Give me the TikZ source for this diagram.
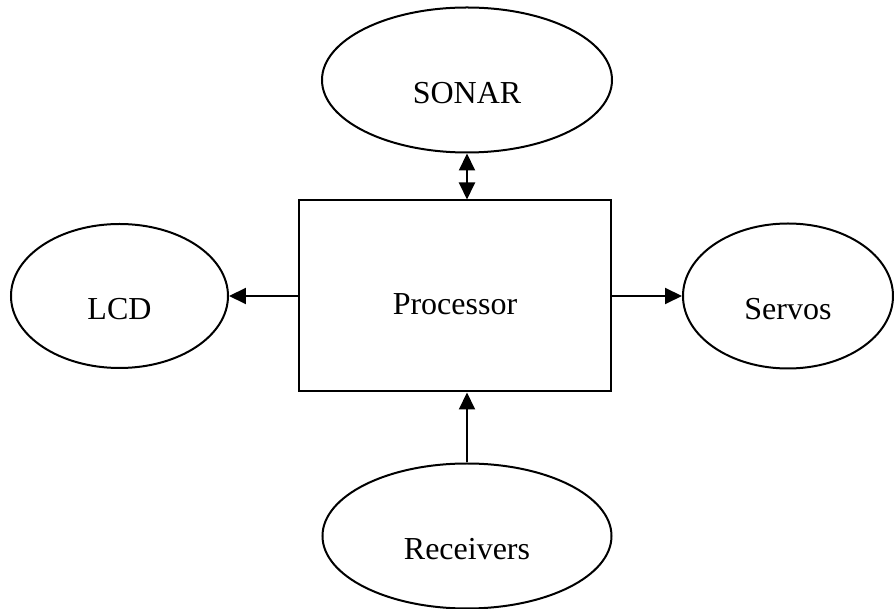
\documentclass[tikz,border=0pt]{standalone}
\usepackage{fontspec}
\setmainfont{Liberation Serif}
\usepackage{tikz}
\usetikzlibrary{positioning,shapes.geometric,arrows.meta}
\tikzset{
    oval/.style={
    ellipse,draw=black,line width=1pt,inner sep=0pt
    },
    procbox/.style={
    rectangle,draw=black,line width=1pt,inner sep=0pt,minimum width=156pt,minimum height=95.5pt
    },
  lbl/.style={font=\fontsize{16}{19}\selectfont, yshift=-6.5pt},
  line/.style={draw, line width=1pt, -{Triangle[length=8.5pt,width=8pt]}},
  dline/.style={draw, line width=1pt, {Triangle[length=8.5pt,width=8pt]}-{Triangle[length=8.5pt,width=8pt]}}
}

\begin{document}
\begin{tikzpicture}
    \useasboundingbox (-227.5pt,-156.5pt) rectangle (219.5pt,148pt);

    \node[procbox,label={[lbl,yshift=2.5pt]center:Processor}] (proc) at (0,0) {};

    \node[oval,minimum width=108.5pt,minimum height=72pt,left of=proc,node distance=167.75pt,label={[lbl]center:LCD}] (lcd) {};
    \node[oval,minimum width=105pt,minimum height=72.5pt,right of=proc,node distance=166.5pt,label={[lbl]center:Servos}] (servo) {};
    \node[oval,minimum width=145pt,minimum height=72.5pt,above of=proc,node distance=108pt,xshift=6pt,label={[lbl]center:SONAR}] (sonar) {};
    \node[oval,minimum width=144.5pt,minimum height=72.5pt,below of=proc,node distance=120pt,xshift=6pt,label={[lbl]center:Receivers}] (recv) {};

    \begin{scope}
      \path[line] (proc.west) -- (lcd.east);
      \path[line] (proc.east) -- (servo.west);
      \path[dline] (sonar.south) -- (sonar.south |- proc.north);
      \path[line] (recv.north) -- (recv.north |- proc.south);
    \end{scope}

\end{tikzpicture}
\end{document}
